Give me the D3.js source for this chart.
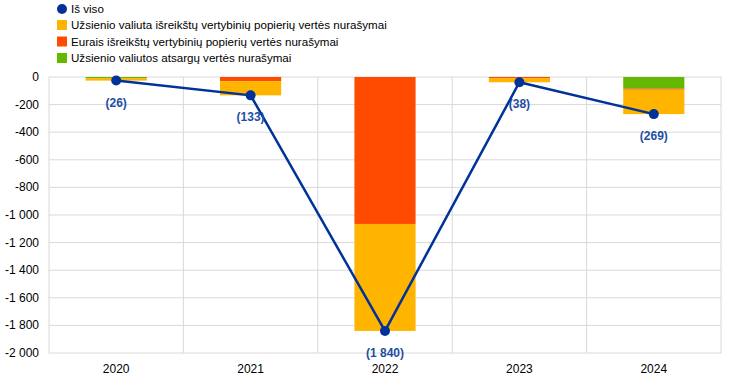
<!DOCTYPE html>
<html>
<head>
<meta charset="utf-8">
<script src="https://cdn.jsdelivr.net/npm/d3@7"></script>
<style>
  body { margin: 0; background: #fff; font-family: "Liberation Sans", Arial, sans-serif; }
</style>
</head>
<body>
<div id="container"></div>
<script>
// data
const years = ["2020", "2021", "2022", "2023", "2024"];
const reserves = [-8, 0, 0, 0, -85];          // Užsienio valiutos atsargų
const euroSec = [0, -30, -1065, -8, -7];      // Eurais išreikštų VP
const fxSec = [-18, -103, -775, -30, -177];   // Užsienio valiuta išreikštų VP
const totals = [-26, -133, -1840, -38, -269];
const yTicks = [0, -200, -400, -600, -800, -1000, -1200, -1400, -1600, -1800, -2000];

const seriesNames = [
  "Užsienio valiuta išreikštų vertybinių popierių vertės nurašymai",
  "Eurais išreikštų vertybinių popierių vertės nurašymai",
  "Užsienio valiutos atsargų vertės nurašymai"
];
const colors = ["#ffb400", "#ff4b00", "#65b800"];
const blue = "#003299";

const W = 744, H = 378;
const margin = {top: 77, right: 23, bottom: 25, left: 49};
const width = W - margin.left - margin.right,
  height = H - margin.top - margin.bottom;

const svg = d3.select("#container").append("svg")
  .attr("width", W).attr("height", H);

// legend
const legend = svg.append("g").attr("font-size", 11.6).attr("fill", "#000");
legend.append("circle").attr("cx", 62).attr("cy", 9).attr("r", 5).attr("fill", blue);
legend.append("text").attr("x", 71).attr("y", 13).text("Iš viso");
seriesNames.forEach((n, i) => {
  const y = 25 + i * 16.5;
  legend.append("rect").attr("x", 57).attr("y", y - 5).attr("width", 10).attr("height", 10).attr("fill", colors[i]);
  legend.append("text").attr("x", 71).attr("y", y + 4).text(n);
});

const g = svg.append("g").attr("transform", `translate(${margin.left},${margin.top})`);

const x = d3.scaleBand().domain(years).range([0, width]);
const y = d3.scaleLinear().domain([0, -2000]).range([0, height]);

// grid
g.selectAll(".hgrid").data(yTicks).join("line")
  .attr("x1", 0).attr("x2", width)
  .attr("y1", d => y(d)).attr("y2", d => y(d))
  .attr("stroke", "#d9d9d9").attr("stroke-width", 1);
const vlines = years.map(d => x(d)).concat([width]);
g.selectAll(".vgrid").data(vlines).join("line")
  .attr("x1", d => d).attr("x2", d => d)
  .attr("y1", 0).attr("y2", height)
  .attr("stroke", "#d9d9d9").attr("stroke-width", 1);

// y axis labels
const fmt = v => v === 0 ? "0" : "-" + d3.format(",")(Math.abs(v)).replace(/,/g, " ");
g.selectAll(".ylab").data(yTicks).join("text")
  .attr("x", -10).attr("y", d => y(d) + 4)
  .attr("text-anchor", "end").attr("font-size", 12).attr("fill", "#000")
  .text(fmt);

// x axis labels
g.selectAll(".xlab").data(years).join("text")
  .attr("x", d => x(d) + x.bandwidth() / 2).attr("y", height + 20)
  .attr("text-anchor", "middle").attr("font-size", 12).attr("fill", "#000")
  .text(d => d);

// stacked bars: from zero outward: reserves, euro, fx
const stackOrder = [reserves, euroSec, fxSec];
const stackColors = [colors[2], colors[1], colors[0]];
const barW = x.bandwidth() * 0.455;
years.forEach((yr, i) => {
  let base = 0;
  stackOrder.forEach((s, k) => {
    const v = s[i];
    if (v !== 0) {
      g.append("rect")
        .attr("x", x(yr) + (x.bandwidth() - barW) / 2)
        .attr("y", y(base))
        .attr("width", barW)
        .attr("height", y(base + v) - y(base))
        .attr("fill", stackColors[k]);
    }
    base += v;
  });
});

// total line
const cx = d => x(d) + x.bandwidth() / 2;
g.append("path")
  .datum(totals)
  .attr("d", d3.line().x((d, i) => cx(years[i])).y(d => y(d)))
  .attr("fill", "none").attr("stroke", blue).attr("stroke-width", 2.5);
g.selectAll(".dot").data(totals).join("circle")
  .attr("cx", (d, i) => cx(years[i])).attr("cy", d => y(d))
  .attr("r", 5).attr("fill", blue);
g.selectAll(".tlab").data(totals).join("text")
  .attr("x", (d, i) => cx(years[i])).attr("y", d => y(d) + 26)
  .attr("text-anchor", "middle").attr("font-size", 12).attr("font-weight", "bold")
  .attr("fill", "#1f4ea3")
  .text(d => "(" + d3.format(",")(Math.abs(d)).replace(/,/g, " ") + ")");
</script>
</body>
</html>
